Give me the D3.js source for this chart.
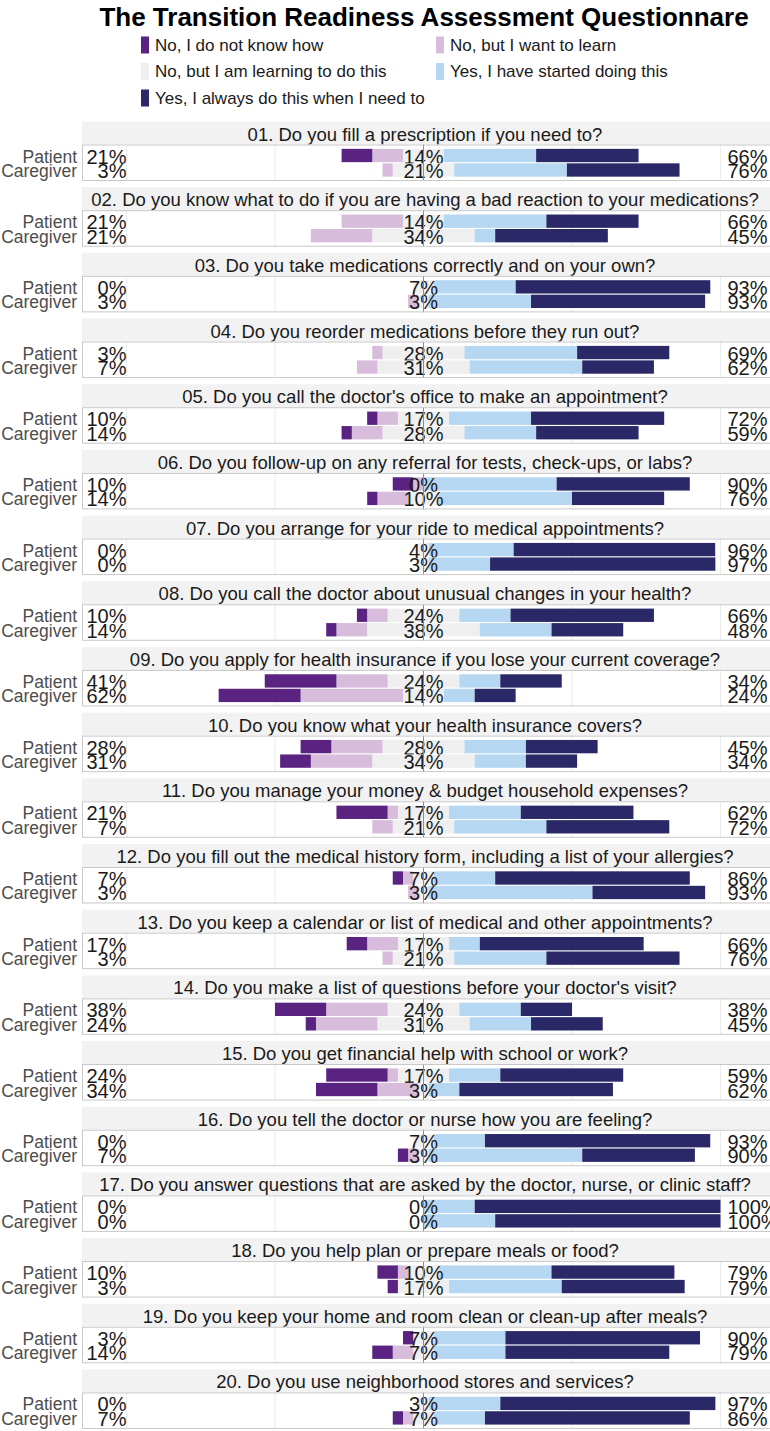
<!DOCTYPE html>
<html><head><meta charset="utf-8">
<script src="https://cdn.jsdelivr.net/npm/d3@7"></script>
<style>body{margin:0;background:#fff;}svg{display:block;font-family:"Liberation Sans",Arial,sans-serif;}</style>
</head><body><div id="chart"></div>
<script>
const chartTitle = "The Transition Readiness Assessment Questionnare";
const questions = [
"01. Do you fill a prescription if you need to?",
"02. Do you know what to do if you are having a bad reaction to your medications?",
"03. Do you take medications correctly and on your own?",
"04. Do you reorder medications before they run out?",
"05. Do you call the doctor's office to make an appointment?",
"06. Do you follow-up on any referral for tests, check-ups, or labs?",
"07. Do you arrange for your ride to medical appointments?",
"08. Do you call the doctor about unusual changes in your health?",
"09. Do you apply for health insurance if you lose your current coverage?",
"10. Do you know what your health insurance covers?",
"11. Do you manage your money & budget household expenses?",
"12. Do you fill out the medical history form, including a list of your allergies?",
"13. Do you keep a calendar or list of medical and other appointments?",
"14. Do you make a list of questions before your doctor's visit?",
"15. Do you get financial help with school or work?",
"16. Do you tell the doctor or nurse how you are feeling?",
"17. Do you answer questions that are asked by the doctor, nurse, or clinic staff?",
"18. Do you help plan or prepare meals or food?",
"19. Do you keep your home and room clean or clean-up after meals?",
"20. Do you use neighborhood stores and services?"];
const groups = ["Patient","Caregiver"];
const levels = ["No, I do not know how","No, but I want to learn","No, but I am learning to do this","Yes, I have started doing this","Yes, I always do this when I need to"];
const levelColors = ["#5a2382","#d7bddb","#efefef","#b5d7f1","#2b2868"];

// Patient percentages per level
const pDont   = [10.34,0,0,0,3.45,6.90,0,3.45,24.14,10.34,17.24,3.45,6.90,17.24,20.69,0,0,6.90,3.45,0];
const pWant   = [10.34,20.69,0,3.45,6.90,3.45,0,6.90,17.24,17.24,3.45,3.45,10.34,20.69,3.45,0,0,3.45,0,0];
const pLearn  = [13.79,13.79,6.90,27.59,17.24,0,3.57,24.14,24.14,27.59,17.24,6.90,17.24,24.14,17.24,6.90,0,10.34,6.90,3.45];
const pStart  = [31.03,34.48,27.59,37.93,27.59,44.83,28.57,17.24,13.79,20.69,24.14,20.69,10.34,20.69,17.24,17.24,17.24,37.93,24.14,24.14];
const pAlways = [34.48,31.03,65.52,31.03,44.83,44.83,67.86,48.28,20.69,24.14,37.93,65.52,55.17,17.24,41.38,75.86,82.76,41.38,65.52,72.41];
// Caregiver percentages per level
const cDont   = [0,0,0,0,3.45,3.45,0,3.45,27.59,10.34,0,0,0,3.45,20.69,3.45,0,3.45,6.90,3.45];
const cWant   = [3.45,20.69,3.45,6.90,10.34,10.34,0,10.34,34.48,20.69,6.90,3.45,3.45,20.69,13.79,3.45,0,0,6.90,3.45];
const cLearn  = [20.69,34.48,3.45,31.03,27.59,10.34,3.45,37.93,13.79,34.48,20.69,3.45,20.69,31.03,3.45,3.45,0,17.24,6.90,6.90];
const cStart  = [37.93,6.90,34.48,37.93,24.14,44.83,20.69,24.14,10.34,17.24,31.03,55.17,31.03,20.69,10.34,51.72,24.14,37.93,24.14,17.24];
const cAlways = [37.93,37.93,58.62,24.14,34.48,31.03,75.86,24.14,13.79,17.24,41.38,37.93,44.83,24.14,51.72,37.93,75.86,41.38,55.17,68.97];
const xTicks = [-100,-50,0,50,100];

const W = 770, H = 1431;
const svg = d3.select("#chart").append("svg").attr("width", W).attr("height", H);

const x = d3.scaleLinear().domain([-100,100]).range([126.5,720.5]);
const panelLeft = 82, panelRight = 772;
const facetTop0 = 121.5, facetStep = 65.68, stripH = 23, panelH = 36.5;
const y = d3.scaleBand().domain(groups).range([0,panelH]).paddingInner(0.08).paddingOuter(0.3);

// title
svg.append("text").attr("x",424).attr("y",26).attr("text-anchor","middle")
  .attr("font-size",26).attr("font-weight","bold").attr("fill","#000").text(chartTitle);

// legend
const legPos = [[141,45],[436,45],[141,71.5],[436,71.5],[141,98]];
const leg = svg.append("g");
levels.forEach((l,i)=>{
  const [lx,ly] = legPos[i];
  leg.append("rect").attr("x",lx).attr("y",ly-8.5).attr("width",8).attr("height",17).attr("fill",levelColors[i]);
  leg.append("text").attr("x",lx+14).attr("y",ly).attr("dominant-baseline","central")
    .attr("font-size",17).attr("fill","#1a1a1a").text(l);
});

const series = {Patient:[pDont,pWant,pLearn,pStart,pAlways], Caregiver:[cDont,cWant,cLearn,cStart,cAlways]};

questions.forEach((q,qi)=>{
  const top = facetTop0 + qi*facetStep;
  const g = svg.append("g");
  g.append("rect").attr("x",panelLeft).attr("y",top).attr("width",panelRight-panelLeft).attr("height",stripH).attr("fill","#f2f2f2");
  g.append("text").attr("x",425).attr("y",top+stripH/2+1).attr("text-anchor","middle").attr("dominant-baseline","central")
    .attr("font-size",18.5).attr("fill","#1a1a1a").text(q);
  const pt = top + stripH;
  const p = g.append("g").attr("transform",`translate(0,${pt})`);
  p.append("rect").attr("x",panelLeft).attr("y",0).attr("width",panelRight-panelLeft).attr("height",panelH).attr("fill","#fff");
  p.selectAll("line.grid").data(xTicks.filter(t=>t!==0)).join("line").attr("class","grid")
    .attr("x1",d=>x(d)).attr("x2",d=>x(d)).attr("y1",0).attr("y2",panelH).attr("stroke","#ebebeb").attr("stroke-width",1);
  groups.forEach(gr=>{
    const v = series[gr].map(a=>a[qi]);
    const yy = y(gr), bh = y.bandwidth();
    const segs = [];
    let cur = -v[2]/2;
    segs.push({x0:cur, x1:0, c:2});
    segs.push({x0:cur - v[1], x1:cur, c:1}); cur -= v[1];
    segs.push({x0:cur - v[0], x1:cur, c:0});
    cur = v[2]/2;
    segs.push({x0:0, x1:cur, c:2});
    segs.push({x0:cur, x1:cur+v[3], c:3}); cur += v[3];
    segs.push({x0:cur, x1:cur+v[4], c:4});
    p.selectAll(null).data(segs.filter(s=>s.x1-s.x0>0)).join("rect")
      .attr("x",s=>x(s.x0)).attr("width",s=>x(s.x1)-x(s.x0))
      .attr("y",yy).attr("height",bh).attr("fill",s=>levelColors[s.c]);
    const cy = yy + bh/2;
    const low = Math.round(v[0]+v[1]), mid = Math.round(v[2]), high = Math.round(v[3]+v[4]);
    p.append("text").attr("x",x(-100)).attr("y",cy+1).attr("text-anchor","end").attr("dominant-baseline","central")
      .attr("font-size",20).attr("fill","#1a1a1a").text(low+"%");
    p.append("text").attr("x",x(0)).attr("y",cy+1).attr("text-anchor","middle").attr("dominant-baseline","central")
      .attr("font-size",20).attr("fill","#1a1a1a").text(mid+"%");
    p.append("text").attr("x",x(100)+7).attr("y",cy+1).attr("text-anchor","start").attr("dominant-baseline","central")
      .attr("font-size",20).attr("fill","#1a1a1a").text(high+"%");
    svg.append("text").attr("x",77).attr("y",pt+cy+1).attr("text-anchor","end").attr("dominant-baseline","central")
      .attr("font-size",17.5).attr("fill","#4d4d4d").text(gr);
  });
  p.append("line").attr("x1",x(0)).attr("x2",x(0)).attr("y1",0).attr("y2",panelH).attr("stroke","#8c8c8c").attr("stroke-width",1);
  p.append("rect").attr("x",panelLeft+0.5).attr("y",0.5).attr("width",panelRight-panelLeft).attr("height",panelH-1)
    .attr("fill","none").attr("stroke","#c8c8c8").attr("stroke-width",1);
});
</script></body></html>
